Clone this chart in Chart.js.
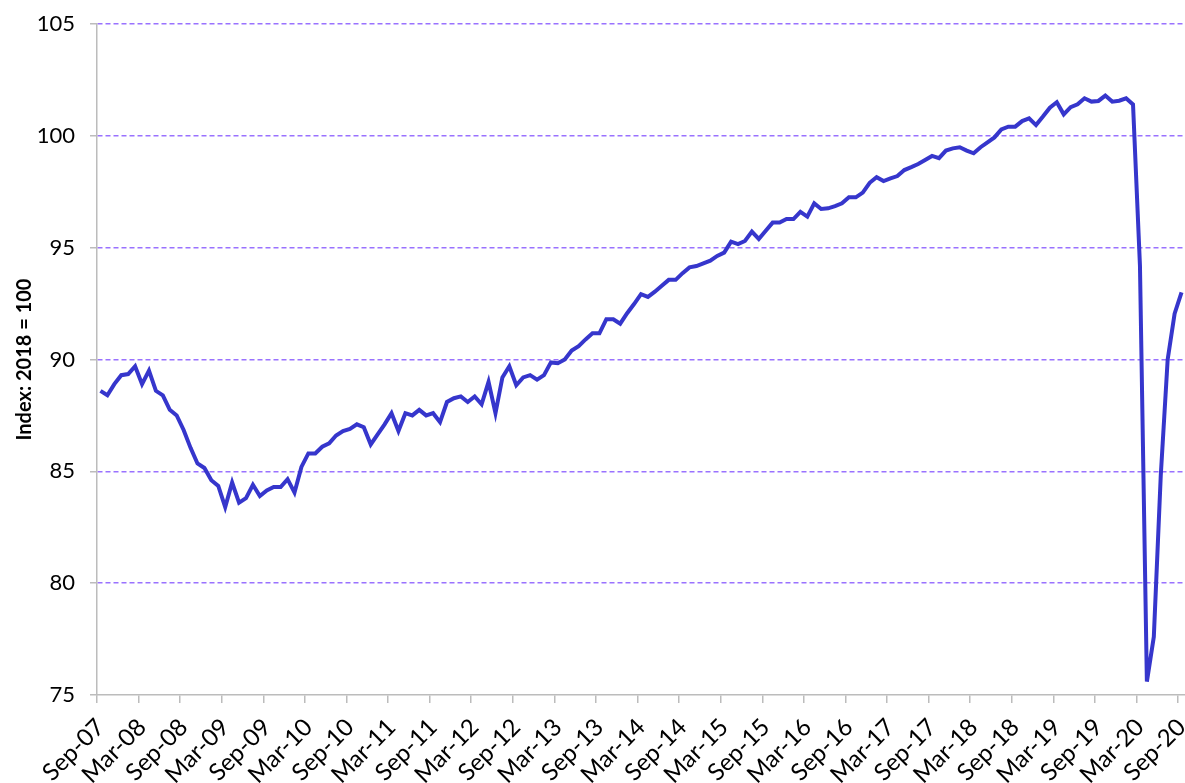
<!DOCTYPE html>
<html>
<head>
<meta charset="utf-8">
<script src="https://cdn.jsdelivr.net/npm/chart.js@4.4.1/dist/chart.umd.min.js"></script>
<style>
  html, body { margin: 0; padding: 0; background: #ffffff; }
  #wrap { position: relative; width: 1185px; height: 783px; }
</style>
</head>
<body>
<div id="wrap"><canvas id="c" width="1185" height="783"></canvas></div>
<script>
// Monthly categories, Sep-07 .. Sep-20
const months = [
  'Sep-07','Oct-07','Nov-07','Dec-07',
  'Jan-08','Feb-08','Mar-08','Apr-08','May-08','Jun-08','Jul-08','Aug-08','Sep-08','Oct-08','Nov-08','Dec-08',
  'Jan-09','Feb-09','Mar-09','Apr-09','May-09','Jun-09','Jul-09','Aug-09','Sep-09','Oct-09','Nov-09','Dec-09',
  'Jan-10','Feb-10','Mar-10','Apr-10','May-10','Jun-10','Jul-10','Aug-10','Sep-10','Oct-10','Nov-10','Dec-10',
  'Jan-11','Feb-11','Mar-11','Apr-11','May-11','Jun-11','Jul-11','Aug-11','Sep-11','Oct-11','Nov-11','Dec-11',
  'Jan-12','Feb-12','Mar-12','Apr-12','May-12','Jun-12','Jul-12','Aug-12','Sep-12','Oct-12','Nov-12','Dec-12',
  'Jan-13','Feb-13','Mar-13','Apr-13','May-13','Jun-13','Jul-13','Aug-13','Sep-13','Oct-13','Nov-13','Dec-13',
  'Jan-14','Feb-14','Mar-14','Apr-14','May-14','Jun-14','Jul-14','Aug-14','Sep-14','Oct-14','Nov-14','Dec-14',
  'Jan-15','Feb-15','Mar-15','Apr-15','May-15','Jun-15','Jul-15','Aug-15','Sep-15','Oct-15','Nov-15','Dec-15',
  'Jan-16','Feb-16','Mar-16','Apr-16','May-16','Jun-16','Jul-16','Aug-16','Sep-16','Oct-16','Nov-16','Dec-16',
  'Jan-17','Feb-17','Mar-17','Apr-17','May-17','Jun-17','Jul-17','Aug-17','Sep-17','Oct-17','Nov-17','Dec-17',
  'Jan-18','Feb-18','Mar-18','Apr-18','May-18','Jun-18','Jul-18','Aug-18','Sep-18','Oct-18','Nov-18','Dec-18',
  'Jan-19','Feb-19','Mar-19','Apr-19','May-19','Jun-19','Jul-19','Aug-19','Sep-19','Oct-19','Nov-19','Dec-19',
  'Jan-20','Feb-20','Mar-20','Apr-20','May-20','Jun-20','Jul-20','Aug-20','Sep-20'
];

// Index values (2018 = 100)
const v2007 = [88.6, 88.4, 88.9, 89.3];
const v2008 = [89.35, 89.7, 88.9, 89.5, 88.6, 88.4, 87.75, 87.5, 86.85, 86.05, 85.35, 85.15];
const v2009 = [84.6, 84.35, 83.4, 84.5, 83.6, 83.8, 84.4, 83.9, 84.15, 84.3, 84.3, 84.65];
const v2010 = [84.05, 85.2, 85.8, 85.8, 86.1, 86.25, 86.6, 86.8, 86.9, 87.1, 86.97, 86.2];
const v2011 = [86.65, 87.1, 87.6, 86.8, 87.6, 87.5, 87.75, 87.5, 87.6, 87.2, 88.1, 88.27];
const v2012 = [88.35, 88.1, 88.35, 88.0, 89.0, 87.6, 89.2, 89.7, 88.85, 89.2, 89.3, 89.1];
const v2013 = [89.3, 89.87, 89.83, 90.0, 90.4, 90.6, 90.9, 91.17, 91.17, 91.8, 91.8, 91.6];
const v2014 = [92.07, 92.48, 92.92, 92.8, 93.03, 93.3, 93.56, 93.56, 93.86, 94.12, 94.18, 94.3];
const v2015 = [94.42, 94.63, 94.78, 95.27, 95.16, 95.3, 95.72, 95.39, 95.76, 96.12, 96.12, 96.28];
const v2016 = [96.28, 96.6, 96.39, 96.98, 96.73, 96.76, 96.86, 96.98, 97.25, 97.25, 97.46, 97.9];
const v2017 = [98.15, 97.98, 98.1, 98.2, 98.47, 98.6, 98.74, 98.92, 99.1, 99.0, 99.34, 99.44];
const v2018 = [99.49, 99.34, 99.22, 99.49, 99.71, 99.93, 100.29, 100.41, 100.41, 100.66, 100.78, 100.48];
const v2019 = [100.86, 101.26, 101.5, 100.96, 101.28, 101.41, 101.68, 101.53, 101.56, 101.8, 101.53, 101.57];
const v2020 = [101.68, 101.4, 94.2, 75.6, 77.6, 84.8, 90.0, 92.05, 93.0];

// Tick labels shown on the x axis (every 6 months)
const tickLabels = [
  'Sep-07','Mar-08','Sep-08','Mar-09','Sep-09','Mar-10','Sep-10','Mar-11','Sep-11',
  'Mar-12','Sep-12','Mar-13','Sep-13','Mar-14','Sep-14','Mar-15','Sep-15','Mar-16',
  'Sep-16','Mar-17','Sep-17','Mar-18','Sep-18','Mar-19','Sep-19','Mar-20','Sep-20'
];
const yTicks = [75, 80, 85, 90, 95, 100, 105];

const values = [].concat(v2007, v2008, v2009, v2010, v2011, v2012, v2013,
                         v2014, v2015, v2016, v2017, v2018, v2019, v2020);

const FONT = 'Lato, "Open Sans", "DejaVu Sans", sans-serif';
const GRID_PURPLE = '#9a72ff';
const AXIS_GREY = '#bcbcbc';

new Chart(document.getElementById('c'), {
  type: 'line',
  data: {
    labels: months,
    datasets: [{
      data: values,
      borderColor: '#3636cc',
      borderWidth: 4,
      pointRadius: 0,
      tension: 0,
      fill: false
    }]
  },
  options: {
    responsive: false,
    animation: false,
    plugins: { legend: { display: false }, tooltip: { enabled: false } },
    layout: { padding: { top: 24, right: 0, left: 0, bottom: 0 } },
    scales: {
      x: {
        type: 'category',
        offset: true,
        border: { display: true, color: AXIS_GREY, width: 1.5 },
        grid: {
          display: true,
          drawOnChartArea: false,
          offset: true,
          tickLength: 8,
          lineWidth: 1.5,
          color: (ctx) => (ctx.index !== undefined && ctx.index % 6 === 0) ? AXIS_GREY : 'rgba(0,0,0,0)'
        },
        ticks: {
          autoSkip: false,
          minRotation: 45,
          maxRotation: 45,
          padding: 10,
          color: '#000000',
          font: { family: FONT, size: 24 },
          callback: function(val, i) {
            const k = tickLabels.indexOf(months[i]);
            return (i % 6 === 0 && k >= 0) ? tickLabels[k] : '';
          }
        },
        afterFit: (s) => { s.paddingRight = 0; s.paddingLeft = 0; s.paddingTop = 0; s.paddingBottom = 0; s.height = 88; }
      },
      y: {
        min: 75,
        max: 105,
        border: { display: true, color: AXIS_GREY, width: 1.5, dash: [5, 3] },
        grid: {
          color: (ctx) => (ctx.tick && ctx.tick.value === 75) ? 'rgba(0,0,0,0)' : GRID_PURPLE,
          lineWidth: 1.5,
          tickColor: AXIS_GREY,
          tickBorderDash: [1, 0],
          tickLength: 7,
          tickWidth: 1.5
        },
        afterBuildTicks: (s) => { s.ticks = yTicks.map(v => ({ value: v })); },
        afterFit: (s) => { s.width = 97; s.paddingTop = 0; s.paddingBottom = 0; },
        ticks: {
          padding: 15,
          color: '#000000',
          font: { family: FONT, size: 22 }
        },
        title: {
          display: true,
          text: 'Index: 2018 = 100',
          color: '#000000',
          font: { family: FONT, size: 20, weight: 'bold' },
          padding: { top: 13, bottom: 1 }
        }
      }
    }
  }
});
</script>
</body>
</html>
